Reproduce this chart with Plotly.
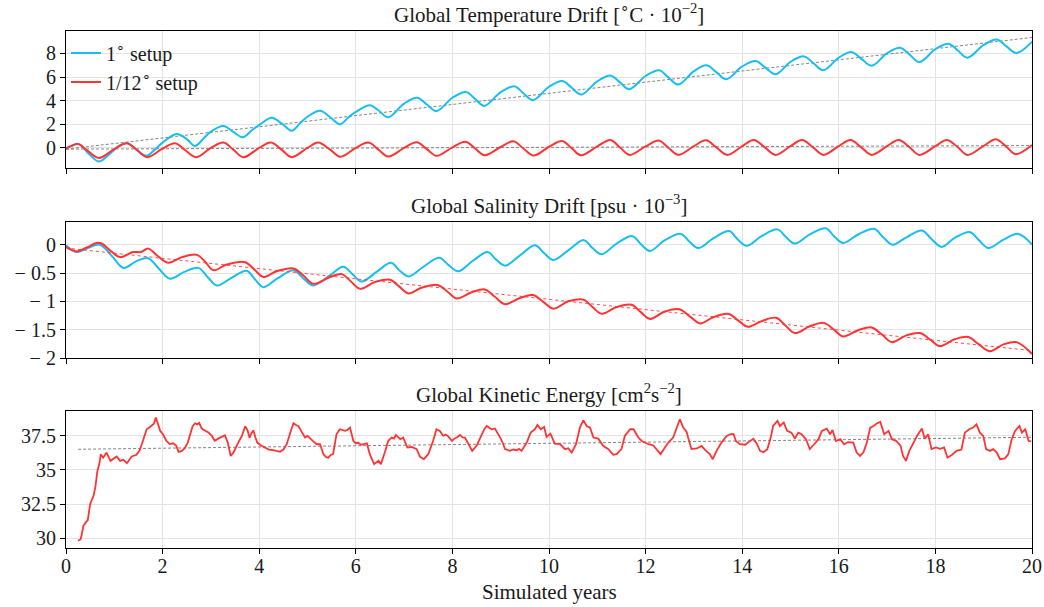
import plotly.graph_objects as go
from plotly.subplots import make_subplots

# ---------------- data ----------------
# Panel 1: Global temperature drift [°C·1e-2]
temp_1deg_x = [0.0, 0.1, 0.27, 0.45, 0.68, 0.85, 1.0, 1.1, 1.27, 1.45, 1.66, 1.85, 2.0, 2.29, 2.5, 2.67, 2.85, 3.0, 3.26, 3.45,
               3.66, 3.85, 4.02, 4.26, 4.47, 4.67, 4.85, 5.0, 5.26, 5.47, 5.67, 5.85, 6.0, 6.29, 6.48, 6.67, 7.0, 7.27, 7.47,
               7.67, 8.0, 8.28, 8.47, 8.66, 9.0, 9.28, 9.47, 9.67, 10.0, 10.28, 10.47, 10.67, 11.0, 11.28, 11.47, 11.66,
               12.0, 12.28, 12.47, 12.68, 13.0, 13.26, 13.47, 13.67, 14.0, 14.28, 14.48, 14.69, 15.0, 15.28, 15.48, 15.68,
               16.0, 16.27, 16.47, 16.68, 17.0, 17.27, 17.47, 17.67, 18.0, 18.27, 18.47, 18.66, 19.0, 19.27, 19.47, 19.68, 20.0]
temp_1deg_y = [-0.05, 0.15, 0.32, -0.4, -1.15, -0.7, -0.15, 0.2, 0.4, -0.1, -0.67, -0.1, 0.45, 1.18, 0.75, 0.17, 0.8, 1.38, 1.85, 1.4,
               0.9, 1.5, 2.0, 2.55, 2.05, 1.46, 2.1, 2.64, 3.15, 2.6, 2.0, 2.6, 3.05, 3.62, 3.15, 2.59, 3.75, 4.24, 3.68,
               3.12, 4.25, 4.74, 4.15, 3.56, 4.72, 5.22, 4.63, 4.04, 5.18, 5.67, 5.1, 4.52, 5.64, 6.12, 5.55, 4.97,
               6.09, 6.57, 5.97, 5.36, 6.5, 6.99, 6.4, 5.81, 6.9, 7.36, 6.8, 6.23, 7.29, 7.75, 7.16, 6.57,
               7.65, 8.11, 7.54, 6.96, 8.02, 8.48, 7.88, 7.27, 8.36, 8.82, 8.23, 7.64, 8.72, 9.18, 8.6, 8.03, 9.0]

temp_12deg_x = [0.0, 0.1, 0.25, 0.45, 0.68, 1.0, 1.26, 1.47, 1.69, 2.0, 2.26, 2.47, 2.7, 3.0, 3.26, 3.47, 3.67, 4.0, 4.24, 4.47,
                4.67, 5.0, 5.22, 5.47, 5.68, 6.0, 6.26, 6.47, 6.67, 7.0, 7.26, 7.47, 7.67, 8.0, 8.27, 8.47, 8.67, 9.0, 9.26,
                9.47, 9.68, 10.0, 10.27, 10.47, 10.66, 11.0, 11.27, 11.47, 11.67, 12.0, 12.27, 12.47, 12.68, 13.0, 13.25,
                13.47, 13.69, 14.0, 14.24, 14.47, 14.69, 15.0, 15.24, 15.47, 15.68, 16.0, 16.24, 16.47, 16.68, 17.0, 17.24,
                17.47, 17.67, 18.0, 18.24, 18.47, 18.66, 19.0, 19.25, 19.47, 19.66, 20.0]
temp_12deg_y = [-0.05, 0.15, 0.34, -0.25, -0.85, -0.1, 0.4, -0.2, -0.78, -0.05, 0.4, -0.2, -0.78, 0.0, 0.45, -0.17, -0.78, 0.0, 0.45, -0.17,
                -0.78, 0.0, 0.45, -0.15, -0.75, 0.0, 0.45, -0.14, -0.73, 0.0, 0.48, -0.1, -0.67, 0.05, 0.53, -0.05, -0.62, 0.08, 0.56,
                -0.05, -0.65, 0.1, 0.59, -0.02, -0.62, 0.13, 0.67, 0.04, -0.59, 0.13, 0.62, 0.02, -0.59, 0.15, 0.65,
                0.03, -0.59, 0.15, 0.67, 0.04, -0.59, 0.15, 0.67, 0.04, -0.59, 0.15, 0.67, 0.04, -0.59, 0.15, 0.67,
                0.04, -0.59, 0.15, 0.67, 0.04, -0.59, 0.17, 0.73, 0.1, -0.53, 0.25]

temp_trend_x = [0.0, 20.0]
temp_trend_1deg = [-0.1, 9.35]
temp_trend_12deg = [-0.1, 0.2]

# Panel 2: Global salinity drift [psu·1e-3]
sal_1deg_x = [0.0, 0.22, 0.45, 0.7, 0.95, 1.19, 1.46, 1.7, 1.92, 2.15, 2.45, 2.74, 2.93, 3.12, 3.4, 3.74, 3.92, 4.09, 4.37,
              4.71, 4.92, 5.12, 5.45, 5.74, 5.93, 6.12, 6.43, 6.73, 6.9, 7.09, 7.4, 7.73, 7.92, 8.12, 8.43, 8.73, 8.9,
              9.09, 9.4, 9.71, 9.9, 10.09, 10.4, 10.72, 10.9, 11.09, 11.4, 11.73, 11.9, 12.09, 12.4, 12.73, 12.9, 13.09,
              13.4, 13.73, 13.9, 14.09, 14.4, 14.73, 14.9, 15.09, 15.4, 15.73, 15.9, 16.09, 16.4, 16.73, 16.92, 17.11,
              17.4, 17.72, 17.92, 18.13, 18.4, 18.72, 18.9, 19.1, 19.41, 19.72, 20.0]
sal_1deg_y = [-0.01, -0.13, -0.06, 0.0, -0.2, -0.41, -0.29, -0.24, -0.42, -0.6, -0.48, -0.41, -0.57, -0.72, -0.6, -0.46, -0.62, -0.75, -0.6,
              -0.45, -0.6, -0.72, -0.55, -0.39, -0.52, -0.65, -0.48, -0.32, -0.45, -0.56, -0.39, -0.23, -0.36, -0.47, -0.28, -0.13, -0.26,
              -0.37, -0.19, -0.01, -0.15, -0.27, -0.1, 0.08, -0.06, -0.17, 0.02, 0.15, 0.01, -0.11, 0.08, 0.19, 0.06, -0.06,
              0.11, 0.24, 0.1, -0.02, 0.15, 0.27, 0.14, 0.02, 0.18, 0.29, 0.15, 0.03, 0.18, 0.28, 0.13, 0.0,
              0.13, 0.25, 0.1, -0.04, 0.12, 0.22, 0.08, -0.06, 0.09, 0.19, 0.0]

sal_12deg_x = [0.0, 0.22, 0.43, 0.63, 0.74, 0.91, 1.12, 1.39, 1.55, 1.7, 1.9, 2.12, 2.4, 2.71, 2.88, 3.05, 3.33, 3.71, 3.9, 4.09,
               4.36, 4.71, 4.92, 5.12, 5.47, 5.71, 5.9, 6.09, 6.4, 6.71, 6.9, 7.09, 7.36, 7.69, 7.9, 8.09, 8.4, 8.67, 8.88,
               9.09, 9.4, 9.67, 9.88, 10.09, 10.4, 10.71, 10.9, 11.09, 11.4, 11.71, 11.9, 12.09, 12.4, 12.7, 12.92, 13.13,
               13.4, 13.71, 13.92, 14.12, 14.4, 14.7, 14.9, 15.09, 15.4, 15.69, 15.9, 16.09, 16.4, 16.68, 16.9, 17.1,
               17.4, 17.68, 17.9, 18.09, 18.4, 18.68, 18.9, 19.13, 19.41, 19.68, 20.0]
sal_12deg_y = [-0.04, -0.12, -0.05, 0.03, 0.02, -0.1, -0.22, -0.13, -0.13, -0.07, -0.2, -0.32, -0.22, -0.18, -0.3, -0.45, -0.35, -0.31, -0.44, -0.57,
               -0.47, -0.42, -0.55, -0.69, -0.57, -0.52, -0.65, -0.78, -0.66, -0.62, -0.74, -0.86, -0.76, -0.71, -0.83, -0.95, -0.84, -0.79, -0.92,
               -1.05, -0.94, -0.89, -1.01, -1.13, -1.0, -0.97, -1.1, -1.22, -1.1, -1.06, -1.19, -1.31, -1.18, -1.14, -1.27, -1.39,
               -1.28, -1.22, -1.34, -1.45, -1.35, -1.29, -1.43, -1.56, -1.44, -1.38, -1.5, -1.62, -1.51, -1.46, -1.59, -1.72,
               -1.6, -1.56, -1.68, -1.79, -1.67, -1.63, -1.76, -1.88, -1.76, -1.72, -1.93]

sal_trend_x = [0.0, 20.0]
sal_trend_12deg = [-0.06, -1.87]

# Panel 3: Global kinetic energy [cm^2 s^-2]
ke_x = [0.25, 0.3, 0.32, 0.36, 0.41, 0.45, 0.5, 0.57, 0.61, 0.65, 0.69, 0.72, 0.77, 0.84, 0.92, 0.98, 1.05, 1.12, 1.19, 1.26,
        1.36, 1.46, 1.52, 1.57, 1.62, 1.67, 1.72, 1.77, 1.82, 1.86, 1.9, 1.95, 2.01, 2.08, 2.15, 2.22, 2.28, 2.33, 2.4, 2.46,
        2.52, 2.57, 2.62, 2.67, 2.72, 2.76, 2.8, 2.83, 2.9, 2.95, 3.02, 3.08, 3.15, 3.22, 3.29, 3.35, 3.41, 3.47, 3.53, 3.58,
        3.64, 3.71, 3.76, 3.8, 3.84, 3.88, 3.92, 3.96, 4.04, 4.12, 4.2, 4.29, 4.36, 4.43, 4.5, 4.57, 4.64, 4.71, 4.76, 4.81,
        4.88, 4.95, 5.0, 5.05, 5.12, 5.19, 5.26, 5.33, 5.38, 5.43, 5.48, 5.53, 5.6, 5.67, 5.73, 5.78, 5.83, 5.88, 5.95, 6.0,
        6.05, 6.1, 6.16, 6.23, 6.29, 6.38, 6.47, 6.52, 6.6, 6.67, 6.74, 6.79, 6.83, 6.92, 6.98, 7.03, 7.07, 7.16, 7.26, 7.33,
        7.41, 7.5, 7.55, 7.6, 7.67, 7.74, 7.81, 7.86, 7.92, 7.99, 8.04, 8.09, 8.16, 8.21, 8.26, 8.33, 8.41, 8.5, 8.56, 8.61,
        8.66, 8.71, 8.76, 8.81, 8.88, 8.94, 8.99, 9.04, 9.09, 9.19, 9.26, 9.33, 9.38, 9.43, 9.49, 9.54, 9.62, 9.71, 9.76, 9.83,
        9.9, 9.95, 10.03, 10.12, 10.23, 10.28, 10.33, 10.4, 10.47, 10.56, 10.6, 10.64, 10.71, 10.78, 10.85, 10.92, 11.02, 11.08,
        11.12, 11.23, 11.33, 11.4, 11.5, 11.57, 11.68, 11.75, 11.8, 11.85, 11.92, 11.99, 12.06, 12.16, 12.26, 12.31, 12.4,
        12.47, 12.57, 12.64, 12.71, 12.78, 12.85, 12.88, 12.95, 13.06, 13.16, 13.23, 13.33, 13.39, 13.47, 13.57, 13.68, 13.75,
        13.82, 13.87, 13.95, 14.06, 14.13, 14.23, 14.3, 14.37, 14.44, 14.52, 14.59, 14.64, 14.73, 14.78, 14.86, 14.93, 15.02,
        15.09, 15.16, 15.23, 15.32, 15.4, 15.49, 15.58, 15.65, 15.75, 15.82, 15.87, 15.94, 16.03, 16.11, 16.19, 16.3, 16.37,
        16.44, 16.51, 16.58, 16.65, 16.72, 16.79, 16.86, 16.94, 17.03, 17.1, 17.19, 17.28, 17.33, 17.39, 17.46, 17.54, 17.62,
        17.72, 17.78, 17.85, 17.92, 18.01, 18.1, 18.18, 18.25, 18.34, 18.44, 18.54, 18.61, 18.7, 18.78, 18.85, 18.92, 18.99,
        19.05, 19.13, 19.2, 19.27, 19.34, 19.44, 19.51, 19.58, 19.65, 19.74, 19.79, 19.86, 19.93, 19.98]
ke_y = [29.8, 29.9, 30.17, 30.9, 31.15, 31.3, 32.5, 33.1, 33.8, 34.93, 35.43, 36.16, 35.9, 36.28, 35.67, 35.85, 35.99, 35.67, 35.75, 35.5,
        35.99, 36.11, 36.4, 36.89, 37.5, 37.99, 38.1, 38.23, 38.4, 38.85, 38.4, 37.87, 37.6, 37.13, 36.9, 36.96, 36.8, 36.33, 36.4, 36.6,
        37.0, 37.62, 38.2, 38.43, 38.35, 38.45, 38.1, 37.99, 37.85, 37.75, 37.5, 37.14, 37.3, 37.45, 37.55, 37.0, 36.03, 36.3, 36.8, 37.1,
        37.48, 38.21, 37.9, 37.36, 37.7, 37.92, 37.4, 37.01, 36.8, 36.65, 36.5, 36.45, 36.4, 36.33, 36.5, 36.89, 37.7, 38.43, 38.3, 38.23,
        37.8, 37.38, 37.5, 37.3, 37.1, 36.89, 36.9, 36.16, 35.95, 35.9, 36.1, 36.16, 37.62, 37.99, 37.95, 37.87, 37.95, 38.11, 37.13, 36.95,
        37.01, 36.85, 36.9, 36.95, 36.16, 35.43, 35.67, 35.43, 36.28, 37.13, 37.38, 37.3, 37.57, 37.26, 37.38, 37.0, 36.65, 36.7, 36.53, 35.96,
        35.79, 36.16, 36.6, 37.13, 37.99, 37.87, 37.5, 37.6, 37.45, 37.13, 37.3, 37.38, 37.57, 37.4, 37.38, 36.89, 36.4, 36.77, 37.2, 37.62,
        38.0, 38.23, 38.1, 37.99, 38.05, 37.7, 37.38, 37.0, 36.53, 36.4, 36.5, 36.45, 36.55, 36.4, 36.7, 37.01, 37.74, 37.99, 38.31, 37.99,
        38.16, 37.43, 37.67, 36.94, 36.9, 36.75, 36.53, 36.6, 36.28, 36.89, 37.5, 38.11, 38.65, 38.23, 38.11, 37.38, 37.3, 37.0,
        36.77, 36.53, 36.11, 36.16, 36.53, 37.5, 37.99, 37.99, 37.7, 37.38, 37.13, 37.01, 36.89, 36.8, 36.4, 36.16, 36.65,
        37.01, 37.38, 38.11, 38.72, 38.11, 37.8, 37.38, 36.53, 36.58, 36.77, 36.48, 36.16, 35.79, 36.4, 37.01, 37.5, 37.62,
        37.65, 37.13, 36.89, 36.85, 37.01, 37.3, 36.95, 36.4, 36.3, 36.53, 37.38, 38.23, 38.6, 38.23, 38.48, 37.87, 37.74,
        37.3, 37.74, 37.62, 37.26, 36.53, 36.89, 37.26, 37.87, 38.04, 37.62, 37.94, 37.13, 37.26, 36.89, 37.05, 37.01, 36.28,
        36.03, 36.3, 37.0, 38.11, 38.23, 38.43, 38.53, 37.62, 37.87, 37.26, 37.13, 36.77, 36.03, 35.67, 36.4, 37.01, 37.5,
        38.04, 37.3, 37.62, 36.53, 36.65, 36.55, 36.65, 35.9, 36.1, 36.4, 36.5, 37.74, 37.99, 38.11, 38.35, 37.74, 37.5,
        36.53, 36.4, 36.53, 36.28, 35.79, 35.85, 36.16, 37.26, 37.87, 38.23, 37.74, 37.99, 37.13, 37.1]

ke_trend_x = [0.25, 20.0]
ke_trend_y = [36.52, 37.4]

temp_ticks = [0, 2, 4, 6, 8]
temp_ticklabels = ["0", "2", "4", "6", "8"]
sal_ticks = [-2, -1.5, -1, -0.5, 0]
sal_ticklabels = ["− 2", "− 1.5", "− 1", "− 0.5", "0"]
ke_ticks = [30, 32.5, 35, 37.5]
ke_ticklabels = ["30", "32.5", "35", "37.5"]
x_ticks = [0, 2, 4, 6, 8, 10, 12, 14, 16, 18, 20]

titles = ["Global Temperature Drift [<sup>∘</sup>C · 10<sup>−2</sup>]",
          "Global Salinity Drift [psu · 10<sup>−3</sup>]",
          "Global Kinetic Energy [cm<sup>2</sup>s<sup>−2</sup>]"]

# ---------------- figure ----------------
BLUE = "#17BEF2"
RED = "#FF3333"
FONT = "Liberation Serif"
TXT = "#1a1a1a"

fig = make_subplots(rows=3, cols=1, shared_xaxes=True, vertical_spacing=0.0)

fig.add_trace(go.Scatter(x=temp_trend_x, y=temp_trend_1deg, mode="lines", showlegend=False,
                         line=dict(color="#777777", width=0.9, dash="3px,2px")), row=1, col=1)
fig.add_trace(go.Scatter(x=temp_trend_x, y=temp_trend_12deg, mode="lines", showlegend=False,
                         line=dict(color="#777777", width=0.9, dash="3px,2px")), row=1, col=1)
fig.add_trace(go.Scatter(x=temp_1deg_x, y=temp_1deg_y, mode="lines", name="1<sup>∘</sup> setup",
                         line=dict(color=BLUE, width=2, shape="spline", smoothing=1.0)), row=1, col=1)
fig.add_trace(go.Scatter(x=temp_12deg_x, y=temp_12deg_y, mode="lines", name="1/12<sup>∘</sup> setup",
                         line=dict(color=RED, width=2, shape="spline", smoothing=1.0)), row=1, col=1)

fig.add_trace(go.Scatter(x=sal_1deg_x, y=sal_1deg_y, mode="lines", showlegend=False,
                         line=dict(color=BLUE, width=2, shape="spline", smoothing=1.0)), row=2, col=1)
fig.add_trace(go.Scatter(x=sal_12deg_x, y=sal_12deg_y, mode="lines", showlegend=False,
                         line=dict(color=RED, width=2, shape="spline", smoothing=1.0)), row=2, col=1)
fig.add_trace(go.Scatter(x=sal_trend_x, y=sal_trend_12deg, mode="lines", showlegend=False,
                         line=dict(color=RED, width=0.9, dash="3px,3px")), row=2, col=1)

fig.add_trace(go.Scatter(x=ke_trend_x, y=ke_trend_y, mode="lines", showlegend=False,
                         line=dict(color="#777777", width=0.9, dash="3px,2px")), row=3, col=1)
fig.add_trace(go.Scatter(x=ke_x, y=ke_y, mode="lines", showlegend=False,
                         line=dict(color=RED, width=1.8)), row=3, col=1)

H = 517.0
doms = [[(548 - 168) / H, 1.0], [(548 - 358) / H, (548 - 222) / H], [0.0, (548 - 411) / H]]
ranges = [[-1.7, 9.9], [-2.0, 0.4], [29.27, 39.33]]
ticks = [(temp_ticks, temp_ticklabels), (sal_ticks, sal_ticklabels), (ke_ticks, ke_ticklabels)]

axis_common = dict(showline=True, linecolor="black", linewidth=1.2, mirror=True,
                   showgrid=True, gridcolor="#e3e3e3", gridwidth=1.2, zeroline=False,
                   ticks="outside", ticklen=5, tickcolor="black", tickwidth=1.2, automargin=False,
                   tickfont=dict(family=FONT, size=20, color=TXT))

for i in range(3):
    ax = "yaxis" if i == 0 else f"yaxis{i+1}"
    xa = "xaxis" if i == 0 else f"xaxis{i+1}"
    fig.layout[ax].update(domain=doms[i], range=ranges[i], tickvals=ticks[i][0],
                          ticktext=ticks[i][1], **axis_common)
    fig.layout[xa].update(range=[0, 20], tickvals=x_ticks, **axis_common)
    fig.add_annotation(text=titles[i], xref="paper", yref="paper", x=0.5, y=doms[i][1],
                       xanchor="center", yanchor="bottom", yshift=2, showarrow=False,
                       font=dict(family=FONT, size=21, color=TXT))

fig.layout.xaxis3.update(showticklabels=True, ticklabelstandoff=-5)
fig.add_annotation(text="Simulated years", xref="paper", yref="paper", x=0.5, y=-44 / H,
                   xanchor="center", yanchor="middle", showarrow=False,
                   font=dict(family=FONT, size=21, color=TXT))

fig.update_layout(width=1044, height=607, margin=dict(l=66, r=12, t=31, b=59, autoexpand=False),
                  paper_bgcolor="white", plot_bgcolor="white",
                  font=dict(family=FONT, size=20, color=TXT),
                  legend=dict(x=0.0, y=0.995, xanchor="left", yanchor="top",
                              bgcolor="rgba(255,255,255,0)", font=dict(family=FONT, size=20, color=TXT),
                              itemwidth=30, tracegroupgap=0))

fig.write_html("out.html", config={"displayModeBar": False},
               post_script="document.body.style.margin='0px';document.body.style.overflow='hidden';")
